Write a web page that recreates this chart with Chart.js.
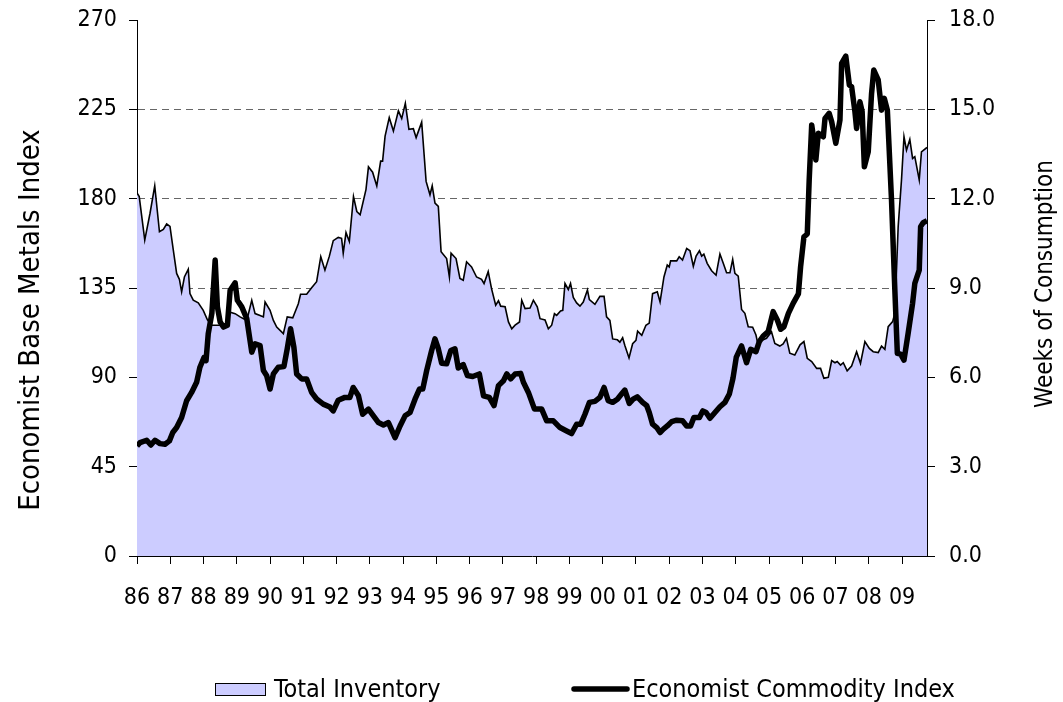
<!DOCTYPE html>
<html>
<head>
<meta charset="utf-8">
<title>Inventory vs Commodity Index</title>
<script src="https://cdn.jsdelivr.net/npm/chart.js@4/dist/chart.umd.min.js"></script>
<style>
  html, body { margin: 0; padding: 0; background: #fff; }
  canvas { display: block; }
</style>
</head>
<body>
<canvas id="metalsChart" width="1063" height="702"></canvas>
<script>
// x values are months since Jan 1986 (0 = Jan 86, 285 = Oct 09)
const yearLabels = ['86','87','88','89','90','91','92','93','94','95','96','97',
                    '98','99','00','01','02','03','04','05','06','07','08','09'];

// Total Inventory, weeks of consumption (right axis)
const invMonth = [
  0, 0.8, 2.8, 4.7, 6.4, 8.1, 9.5, 10.7, 11.9, 13.1,
  14.3, 15.3, 16.1, 17.1, 18.5, 19.1, 20.3, 22.1, 23.9, 25.4,
  27, 31.7, 33.6, 35.4, 37.2, 39.6, 41.4, 42.6, 44.4, 45.6,
  46.2, 48, 49.2, 50.4, 52.8, 54.2, 56.2, 58.2, 59, 61.2,
  63, 64.8, 66.3, 67.8, 69.4, 70.8, 72.6, 73.8, 74.4, 75.4,
  76.6, 78.1, 79.3, 80.5, 82.6, 83.5, 85, 86.5, 87.9, 88.6,
  89.5, 91, 92.5, 94.3, 95.5, 96.8, 98.1, 99.7, 100.7, 102.7,
  104.3, 105.7, 106.5, 107.5, 108.7, 109.7, 111.7, 112.7, 113.3, 115.1,
  116.5, 117.7, 118.9, 120.7, 122.5, 124.3, 125.2, 126.7, 127.9, 129.4,
  130.4, 131.2, 132.8, 134, 135.2, 136.4, 138, 138.8, 140, 141.8,
  143, 144.4, 145.4, 147.2, 148.4, 149.6, 150.6, 151.4, 152.8, 153.6,
  154.4, 155.6, 156.4, 157.4, 158.6, 159.8, 161, 162.5, 163.2, 165.2,
  167, 168.5, 169.4, 170.6, 171.6, 173.3, 174.2, 175.2, 176, 177.5,
  178.8, 180, 180.6, 182.1, 183.6, 184.8, 186, 187.7, 188.7, 190.1,
  191.3, 192, 192.5, 194.7, 195.6, 196.8, 198.3, 199.5, 200.7, 201.7,
  202.9, 203.7, 204.5, 205.7, 207.3, 208.9, 210.3, 211.5, 212.7, 213.9,
  214.9, 215.7, 216.9, 218.1, 219.3, 220.5, 222.1, 223.3, 223.8, 225.7,
  227.1, 228.9, 230.1, 231.9, 233.1, 234.3, 235.5, 237.3, 239.2, 240.6,
  241.8, 243.4, 245.2, 246.6, 247.8, 249.4, 250.6, 251.8, 252.6, 253.8,
  254.8, 256.2, 257.8, 259.6, 261, 262.6, 264.2, 265.6, 267.4, 268.6,
  269.8, 271, 272.6, 273.4, 274.6, 275.8, 276.7, 277.6, 278.8, 279.8,
  280.6, 282.2, 283, 285
];
const invWeeks = [
  12.19, 12.07, 10.61, 11.51, 12.43, 10.89, 10.97, 11.15, 11.07, 10.27,
  9.49, 9.29, 8.87, 9.37, 9.63, 8.81, 8.59, 8.50, 8.25, 7.93,
  7.75, 7.75, 8.19, 8.14, 8.03, 7.91, 8.59, 8.14, 8.08, 8.03,
  8.53, 8.25, 7.91, 7.69, 7.47, 8.03, 8.00, 8.47, 8.79, 8.79,
  9.01, 9.21, 10.05, 9.60, 10.07, 10.59, 10.70, 10.67, 10.17, 10.86,
  10.56, 12.07, 11.57, 11.46, 12.30, 13.07, 12.89, 12.43, 13.26, 13.26,
  14.10, 14.72, 14.27, 14.95, 14.69, 15.20, 14.33, 14.35, 14.05, 14.57,
  12.58, 12.13, 12.43, 11.85, 11.74, 10.22, 9.99, 9.37, 10.17, 9.99,
  9.32, 9.26, 9.88, 9.71, 9.37, 9.29, 9.15, 9.55, 8.98, 8.42,
  8.57, 8.39, 8.37, 7.86, 7.63, 7.75, 7.86, 8.59, 8.31, 8.33,
  8.59, 8.37, 7.97, 7.93, 7.63, 7.75, 8.14, 8.08, 8.23, 8.25,
  9.15, 8.95, 9.15, 8.68, 8.50, 8.39, 8.53, 8.93, 8.61, 8.45,
  8.72, 8.72, 8.03, 7.91, 7.29, 7.26, 7.18, 7.33, 7.07, 6.65,
  7.13, 7.24, 7.55, 7.41, 7.75, 7.82, 8.81, 8.87, 8.53, 9.37,
  9.77, 9.71, 9.91, 9.91, 10.05, 9.94, 10.33, 10.25, 9.73, 10.07,
  10.25, 10.07, 10.14, 9.83, 9.58, 9.43, 10.14, 9.83, 9.51, 9.51,
  9.96, 9.49, 9.40, 8.28, 8.15, 7.70, 7.68, 7.42, 7.20, 7.25,
  7.31, 7.53, 7.14, 7.05, 7.12, 7.31, 6.81, 6.75, 7.09, 7.20,
  6.64, 6.53, 6.30, 6.30, 5.97, 6.00, 6.56, 6.49, 6.53, 6.41,
  6.49, 6.22, 6.38, 6.86, 6.47, 7.20, 6.97, 6.86, 6.83, 7.05,
  6.94, 7.70, 7.87, 8.15, 11.06, 12.63, 14.08, 13.63, 13.99, 13.35,
  13.41, 12.63, 13.57, 13.72
];

// Economist Commodity Index, base metals (left axis)
const comMonth = [
  0, 1.1, 3.5, 5, 6.5, 8.3, 10.1, 11.7, 12.9, 14.3,
  16.1, 17.9, 19.7, 21.5, 22.7, 24.2, 24.9, 25.7, 27, 28.2,
  29, 30, 31.2, 32.6, 33.6, 35.4, 36.2, 37.8, 39.6, 41.4,
  42.6, 44.4, 45.6, 46.8, 48, 49.2, 51, 53, 54.2, 55.4,
  56.6, 57.6, 59.4, 61.2, 63, 64.8, 67.2, 69.6, 70.8, 72.6,
  75, 76.8, 78, 79.9, 81.4, 83.5, 85.3, 87.1, 88.9, 90.7,
  93.1, 94.9, 96.7, 98.5, 100.3, 101.9, 103.1, 104.5, 106.3, 107.5,
  108.7, 109.9, 111.7, 113.2, 114.7, 115.9, 117.7, 119.2, 121.1, 123.5,
  125, 127.1, 128.8, 130.4, 132.2, 133.4, 134.8, 136.4, 138.4, 139.4,
  141.2, 143.4, 146, 147.8, 150.2, 152.6, 155, 156.8, 158.6, 160.1,
  161.6, 163.2, 165.2, 167, 168.5, 170, 171.6, 173.3, 174.8, 176,
  177.6, 179, 180.5, 182.4, 183.9, 184.8, 186, 187.5, 188.7, 189.9,
  191.3, 192.9, 194.7, 196.8, 198.3, 199.7, 200.9, 202.9, 204.1, 205.3,
  206.7, 208.5, 210.3, 212.1, 213.7, 215, 216.2, 218.1, 219.9, 221.4,
  223.3, 224.5, 225.9, 227.7, 229.5, 231, 232.2, 233.4, 235, 236.7,
  238.6, 239.4, 240.6, 241.8, 242.5, 243.4, 244.2, 244.9, 245.8, 247.6,
  248.2, 249.7, 250.6, 252.1, 253.6, 254.2, 255.7, 257, 257.8, 259,
  259.6, 260.8, 261.6, 262.4, 263.8, 265, 265.8, 267.4, 268.6, 269.6,
  270.7, 272.2, 273.4, 274.3, 275.5, 276.7, 278.2, 279.8, 280.6, 282.2,
  282.7, 283.6, 285
];
const comIndex = [
  55.4, 57.1, 58.3, 55.9, 58.3, 56.6, 56.3, 58.0, 62.2, 64.7,
  69.8, 78.2, 82.4, 87.5, 95.1, 100.1, 98.4, 112.0, 122.1, 149.1,
  125.5, 117.9, 115.3, 116.2, 133.9, 137.6, 128.8, 125.5, 119.6, 102.7,
  106.9, 106.0, 93.4, 90.8, 84.1, 91.7, 95.1, 95.4, 104.4, 114.5,
  105.2, 91.7, 89.2, 89.2, 82.4, 79.1, 76.5, 75.0, 73.1, 78.5,
  79.9, 79.9, 84.9, 80.7, 71.4, 74.0, 70.6, 67.2, 66.0, 67.2,
  59.6, 65.5, 70.6, 72.3, 79.0, 84.1, 84.1, 93.4, 103.5, 109.4,
  104.4, 97.1, 96.8, 103.5, 104.4, 94.7, 96.4, 90.9, 90.4, 91.7,
  80.7, 79.9, 75.7, 85.8, 88.3, 91.7, 89.2, 91.7, 92.0, 87.5,
  82.4, 74.0, 74.0, 68.1, 68.1, 64.7, 63.0, 61.7, 66.4, 66.4,
  71.4, 77.4, 77.9, 79.9, 84.9, 78.2, 77.4, 79.0, 81.6, 83.6,
  76.9, 79.0, 80.2, 77.4, 75.7, 72.3, 66.4, 64.7, 62.2, 63.9,
  65.5, 67.7, 68.4, 68.1, 65.5, 65.5, 69.8, 69.8, 73.1, 72.3,
  69.4, 72.3, 75.2, 77.4, 81.6, 89.5, 100.2, 105.8, 97.4, 104.1,
  102.9, 108.0, 110.8, 113.0, 123.1, 118.9, 114.2, 115.5, 122.2, 127.3,
  132.0, 145.7, 160.8, 162.2, 189.4, 217.1, 209.5, 199.5, 212.9, 211.2,
  220.4, 223.0, 218.8, 207.9, 219.6, 248.1, 251.8, 237.2, 236.4, 223.8,
  215.4, 228.8, 223.8, 196.1, 203.6, 233.0, 244.8, 239.8, 224.6, 230.5,
  224.6, 179.3, 134.0, 102.1, 101.7, 98.7, 112.2, 127.3, 137.3, 144.0,
  165.9, 167.9, 168.9
];

const FONT = "'DejaVu Sans Condensed', 'DejaVu Sans', sans-serif";
const leftTitle = 'Economist Base Metals Index';
const rightTitle = 'Weeks of Consumption';

function toPoints(xs, ys) {
    return xs.map((x, i) => ({ x: x, y: ys[i] }));
}

// keep the plot area edges fixed: no extra room for tick label overhang
function fixWidth(w) {
    return (scale) => {
        scale.width = w;
        scale.paddingTop = 0;
        scale.paddingBottom = 0;
    };
}

// Titles and the legend row are drawn after the chart
const extrasPlugin = {
    id: 'extras',
    afterDraw(chart) {
        const ctx = chart.ctx;
        const inv = chart.data.datasets[1];
        const com = chart.data.datasets[0];
        ctx.save();
        ctx.fillStyle = '#000';
        ctx.textAlign = 'center';
        ctx.textBaseline = 'middle';

        // both axis titles read bottom-to-top
        ctx.save();
        ctx.font = '29px ' + FONT;
        ctx.translate(31, 320);
        ctx.rotate(-Math.PI / 2);
        ctx.fillText(leftTitle, 0, 0);
        ctx.restore();

        ctx.save();
        ctx.font = '24px ' + FONT;
        ctx.translate(1046, 284);
        ctx.rotate(-Math.PI / 2);
        ctx.fillText(rightTitle, 0, 0);
        ctx.restore();

        // legend
        ctx.font = '25px ' + FONT;
        ctx.textAlign = 'left';
        ctx.textBaseline = 'alphabetic';
        ctx.fillStyle = inv.backgroundColor;
        ctx.fillRect(215, 683, 50, 12);
        ctx.strokeStyle = '#000';
        ctx.lineWidth = 1;
        ctx.strokeRect(215.5, 683.5, 50, 12);
        ctx.fillStyle = '#000';
        ctx.fillText(inv.label, 274, 697);

        ctx.beginPath();
        ctx.lineWidth = com.borderWidth;
        ctx.lineCap = 'round';
        ctx.moveTo(574, 689);
        ctx.lineTo(627, 689);
        ctx.stroke();
        ctx.fillText(com.label, 632, 697);
        ctx.restore();
    }
};

const ctx = document.getElementById('metalsChart').getContext('2d');

new Chart(ctx, {
    type: 'line',
    data: {
        datasets: [{
            label: 'Economist Commodity Index',
            data: toPoints(comMonth, comIndex),
            yAxisID: 'y',
            borderColor: '#000',
            borderWidth: 5.5,
            borderJoinStyle: 'round',
            fill: false
        }, {
            label: 'Total Inventory',
            data: toPoints(invMonth, invWeeks),
            yAxisID: 'y1',
            borderColor: '#000',
            borderWidth: 1.6,
            backgroundColor: '#CCCCFF',
            fill: 'origin'
        }]
    },
    options: {
        responsive: false,
        animation: false,
        layout: { padding: { top: 20, left: 0, right: 0, bottom: 0 } },
        elements: { point: { radius: 0 }, line: { tension: 0 } },
        plugins: {
            legend: { display: false },
            tooltip: { enabled: false }
        },
        scales: {
            x: {
                type: 'linear',
                min: 0,
                max: 285,
                afterFit: (scale) => { scale.height = 146; },
                ticks: {
                    stepSize: 12,
                    includeBounds: false,
                    autoSkip: false,
                    maxRotation: 0,
                    padding: 20,
                    color: '#000',
                    font: { family: FONT, size: 23 },
                    callback: (v) => (v % 12 === 0 ? yearLabels[v / 12] : null)
                },
                grid: { drawOnChartArea: false, tickLength: 8, tickColor: '#000' },
                border: { color: '#000', width: 1 }
            },
            y: {
                position: 'left',
                min: 0,
                max: 270,
                afterFit: fixWidth(137),
                ticks: {
                    stepSize: 45,
                    padding: 12,
                    color: '#000',
                    font: { family: FONT, size: 23 }
                },
                grid: {
                    color: (c) => (c.tick && c.tick.value > 0 && c.tick.value < 270 ? '#666666' : 'rgba(0,0,0,0)'),
                    lineWidth: 1,
                    tickLength: 8,
                    tickColor: '#000',
                    tickBorderDash: []
                },
                border: { color: '#000', width: 1, dash: [7, 5] }
            },
            y1: {
                position: 'right',
                min: 0,
                max: 18,
                afterFit: fixWidth(136),
                ticks: {
                    stepSize: 3,
                    padding: 14,
                    color: '#000',
                    font: { family: FONT, size: 23 },
                    callback: (v) => v.toFixed(1)
                },
                grid: { drawOnChartArea: false, tickLength: 8, tickColor: '#000' },
                border: { color: '#000', width: 1 }
            }
        }
    },
    plugins: [extrasPlugin]
});
</script>
</body>
</html>
